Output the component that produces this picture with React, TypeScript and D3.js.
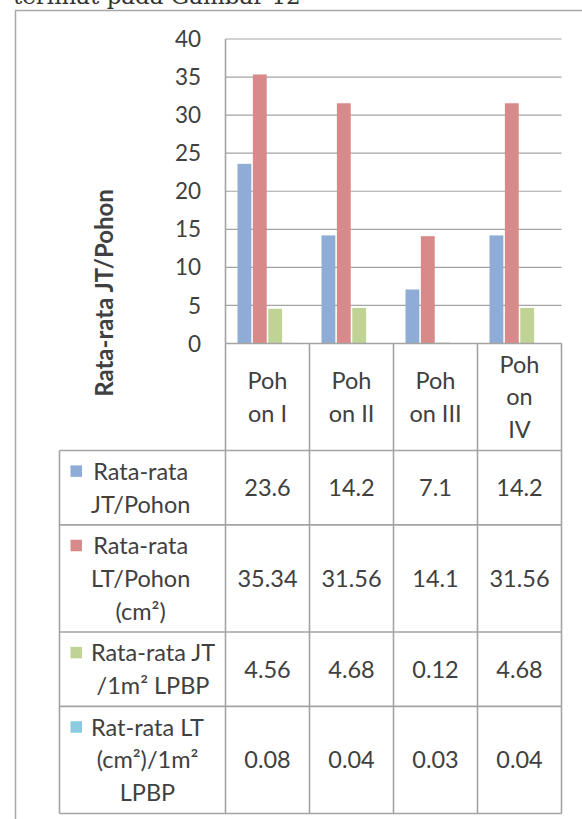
import React, { useEffect, useRef } from "react";
import * as d3 from "d3";

const categories = ["Pohon I", "Pohon II", "Pohon III", "Pohon IV"];
const categoryLines = [["Poh", "on I"], ["Poh", "on II"], ["Poh", "on III"], ["Poh", "on", "IV"]];

const seriesKeys = ["jt", "lt", "jtm2", "ltm2"];
const seriesLines = [
  ["Rata-rata", "JT/Pohon"],
  ["Rata-rata", "LT/Pohon", "(cm²)"],
  ["Rata-rata JT", "/1m² LPBP"],
  ["Rat-rata LT", "(cm²)/1m²", "LPBP"],
];
const seriesColors = ["#8eacd6", "#d78a89", "#bed394", "#8bcbdd"];

const jtPerPohon = [23.6, 14.2, 7.1, 14.2];
const ltPerPohon = [35.34, 31.56, 14.1, 31.56];
const jtPerM2 = [4.56, 4.68, 0.12, 4.68];
const ltPerM2 = [0.08, 0.04, 0.03, 0.04];
const seriesValues = [jtPerPohon, ltPerPohon, jtPerM2, ltPerM2];
const valueLabels = [
  ["23.6", "14.2", "7.1", "14.2"],
  ["35.34", "31.56", "14.1", "31.56"],
  ["4.56", "4.68", "0.12", "4.68"],
  ["0.08", "0.04", "0.03", "0.04"],
];

const yTicks = [0, 5, 10, 15, 20, 25, 30, 35, 40];

const App = () => {
  const ref = useRef<SVGSVGElement>(null);

  useEffect(() => {
    const svg = d3.select(ref.current);
    svg.selectAll("*").remove();

    const font = "Lato, 'Open Sans', sans-serif";
    const ink = "#404040";
    const lineCol = "#a3a3a3";
    const lineH = 32.7;

    const plotLeft = 225.5, plotRight = 561.5, plotTop = 39, plotBottom = 343.5;
    const tableLeft = 59.5;

    const x = d3.scaleBand().domain(categories).range([plotLeft, plotRight]);
    const xs = d3.scaleBand().domain(seriesKeys).range([12, 72]).paddingInner(0.1);
    const y = d3.scaleLinear().domain([0, 40]).range([plotBottom, plotTop]);

    // page text cut off at the top
    svg.append("text")
      .attr("x", 13).attr("y", 4)
      .attr("font-family", "'DejaVu Serif', serif")
      .attr("font-size", 23)
      .attr("fill", "#333")
      .text("terlihat pada Gambar 12");

    // chart frame
    svg.append("path")
      .attr("d", "M15.5,819V10.5H582")
      .attr("fill", "none")
      .attr("stroke", "#a8a8a8")
      .attr("stroke-width", 1.5);

    // gridlines
    svg.append("g").selectAll("line").data(yTicks).join("line")
      .attr("x1", plotLeft).attr("x2", plotRight)
      .attr("y1", d => y(d)).attr("y2", d => y(d))
      .attr("stroke", lineCol).attr("stroke-width", 1.2);

    // y tick labels
    svg.append("g").selectAll("text").data(yTicks).join("text")
      .attr("x", 201).attr("y", d => y(d))
      .attr("dy", "0.36em")
      .attr("text-anchor", "end")
      .attr("font-family", font).attr("font-size", 22.5)
      .attr("fill", ink)
      .text(d => d);

    // bars
    seriesKeys.forEach((key, s) => {
      svg.append("g").selectAll("rect").data(seriesValues[s]).join("rect")
        .attr("x", (d, i) => (x(categories[i]) as number) + (xs(key) as number))
        .attr("width", xs.bandwidth())
        .attr("y", d => y(d))
        .attr("height", d => y(0) - y(d))
        .attr("fill", seriesColors[s]);
    });

    // y axis title
    svg.append("text")
      .attr("transform", "translate(113,293) rotate(-90)")
      .attr("text-anchor", "middle")
      .attr("font-family", font).attr("font-weight", "bold")
      .attr("font-size", 24)
      .attr("fill", ink)
      .text("Rata-rata JT/Pohon");

    // data table
    const headerH = 107;
    const rowHeights = seriesLines.map(l => l.length * lineH + 9);
    const rowTops = [plotBottom + headerH];
    rowHeights.forEach((h, i) => rowTops.push(rowTops[i] + h));
    const tableBottom = rowTops[rowTops.length - 1];

    const g = svg.append("g").attr("font-family", font).attr("font-size", 23.5).attr("fill", ink);

    // header labels
    categories.forEach((c, i) => {
      const cx = (x(c) as number) + x.bandwidth() / 2;
      const lines = categoryLines[i];
      const cy = plotBottom + headerH / 2;
      lines.forEach((t, k) => {
        g.append("text")
          .attr("x", cx)
          .attr("y", cy + (k - (lines.length - 1) / 2) * lineH)
          .attr("dy", "0.36em")
          .attr("text-anchor", "middle")
          .text(t);
      });
    });

    // rows
    seriesLines.forEach((lines, s) => {
      const top = rowTops[s];
      const cy = top + rowHeights[s] / 2;
      const firstY = cy - (lines.length - 1) / 2 * lineH;
      g.append("rect")
        .attr("x", 70.5).attr("y", firstY - 6)
        .attr("width", 11.5).attr("height", 11.5)
        .attr("fill", seriesColors[s]);
      const labels = lines.map((t, k) =>
        g.append("text")
          .attr("x", 91)
          .attr("y", firstY + k * lineH)
          .attr("dy", "0.36em")
          .text(t)
      );
      const widths = labels.map(l => (l.node() as SVGTextElement).getComputedTextLength());
      const maxW = d3.max(widths) as number;
      labels.forEach(l => l.attr("x", 91 + maxW / 2).attr("text-anchor", "middle"));

      categories.forEach((c, i) => {
        g.append("text")
          .attr("x", (x(c) as number) + x.bandwidth() / 2)
          .attr("y", cy)
          .attr("dy", "0.36em")
          .attr("text-anchor", "middle")
          .text(valueLabels[s][i]);
      });
    });

    // table grid
    const grid = svg.append("g").attr("stroke", lineCol).attr("stroke-width", 1.6).attr("fill", "none");
    rowTops.forEach(t => {
      grid.append("line").attr("x1", tableLeft).attr("x2", plotRight).attr("y1", t).attr("y2", t);
    });
    grid.append("line").attr("x1", tableLeft).attr("x2", tableLeft).attr("y1", rowTops[0]).attr("y2", tableBottom);
    categories.forEach(c => {
      grid.append("line")
        .attr("x1", x(c) as number).attr("x2", x(c) as number)
        .attr("y1", plotBottom).attr("y2", tableBottom);
    });
    grid.append("line").attr("x1", plotRight).attr("x2", plotRight).attr("y1", plotBottom).attr("y2", tableBottom);
    // axes
    grid.append("line").attr("x1", plotLeft).attr("x2", plotRight).attr("y1", plotBottom).attr("y2", plotBottom);
    grid.append("line").attr("x1", plotLeft).attr("x2", plotLeft).attr("y1", plotTop).attr("y2", plotBottom);
  }, []);

  return (
    <svg
      ref={ref}
      width={582}
      height={819}
      style={{ position: "absolute", left: 0, top: 0, background: "#fff" }}
    />
  );
};

export default App;
